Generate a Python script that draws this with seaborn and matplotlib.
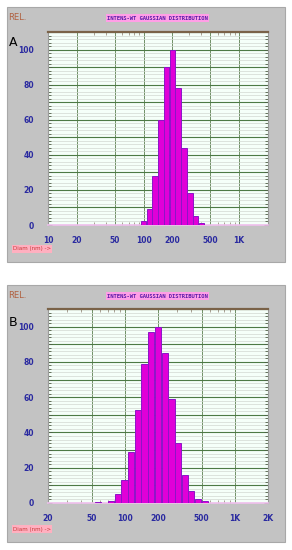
import matplotlib
matplotlib.use("Agg")
import matplotlib.pyplot as plt
import matplotlib.patches as mpatches
from matplotlib.ticker import FixedLocator, MultipleLocator, FuncFormatter, NullFormatter
import numpy as np
import pandas as pd
import seaborn as sns

# Data (diameter in nm, relative intensity)
diam_a = [100, 115, 132, 151, 174, 200, 230, 264, 304, 350, 402]
rel_a = [2, 9, 28, 60, 90, 100, 78, 44, 18, 5, 1]

diam_b = [57, 65, 75, 86, 99, 114, 131, 151, 174, 200, 230, 265, 304, 350, 402, 462, 532]
rel_b = [0.5, 0, 1, 5, 13, 29, 53, 79, 97, 100, 85, 59, 34, 16, 7, 2.5, 1]

ticks_a = [10, 20, 50, 100, 200, 500, 1000]
labels_a = ["10", "20", "50", "100", "200", "500", "1K"]
ticks_b = [20, 50, 100, 200, 500, 1000, 2000]
labels_b = ["20", "50", "100", "200", "500", "1K", "2K"]

title = "INTENS-WT GAUSSIAN DISTRIBUTION"

sns.set_style("white")

fig = plt.figure(figsize=(2.92, 5.5), dpi=100)
fig.patch.set_facecolor("white")


def panel(gray_box, ax_box, diam, rel, xlim, ticks, labels, letter, letter_y):
    # gray background of the instrument screen
    fig.patches.append(mpatches.Rectangle(gray_box[:2], gray_box[2], gray_box[3],
                                          transform=fig.transFigure, facecolor="#c3c3c3",
                                          edgecolor="#a8a8a8", lw=0.8, zorder=-5))
    ax = fig.add_axes(ax_box)
    ax.set_facecolor("#f5fff9")
    df = pd.DataFrame({"diam": diam, "rel": rel})
    sns.barplot(data=df, x="diam", y="rel", native_scale=True, log_scale=(True, False),
                width=1, color="#e000d8", saturation=1, edgecolor="#8c14c8",
                linewidth=0.7, ax=ax, zorder=3)
    ax.set_xlim(*xlim)
    ax.set_ylim(0, 110)

    # grid: dark lines every 10, light lines every 2
    ax.yaxis.set_major_locator(MultipleLocator(10))
    ax.yaxis.set_minor_locator(MultipleLocator(2))
    ax.yaxis.set_major_formatter(FuncFormatter(lambda v, p: f"{int(v)}" if v % 20 == 0 and v <= 100 else ""))
    ax.xaxis.set_major_locator(FixedLocator(ticks))
    ax.xaxis.set_major_formatter(FuncFormatter(lambda v, p: labels[ticks.index(v)] if v in ticks else ""))
    ax.xaxis.set_minor_formatter(NullFormatter())
    ax.grid(True, which="major", axis="y", color="#4d7a45", lw=0.8, zorder=1)
    ax.grid(True, which="minor", axis="y", color="#d2d8d2", lw=0.5, zorder=1)
    ax.grid(True, which="major", axis="x", color="#6f8f66", lw=0.7, zorder=1)
    ax.set_axisbelow(True)

    ax.tick_params(axis="y", which="both", direction="in", left=True, right=True,
                   colors="#4f5f45", length=2, width=0.6)
    ax.tick_params(axis="y", which="major", length=3, pad=10, labelcolor="#2a2aa0",
                   labelsize=5.5)
    ax.tick_params(axis="x", which="both", direction="in", top=True, bottom=True,
                   colors="#8a7a6a", length=2, width=0.5)
    ax.tick_params(axis="x", which="major", length=0, pad=8, labelcolor="#2a2aa0",
                   labelsize=5.5)
    for lab in ax.get_xticklabels() + ax.get_yticklabels():
        lab.set_fontweight("bold")

    ax.spines["top"].set_color("#7a6248")
    ax.spines["top"].set_linewidth(1.6)
    ax.spines["bottom"].set_color("#f0c0ee")
    ax.spines["bottom"].set_linewidth(1.2)
    ax.spines["left"].set_color("#9a9a9a")
    ax.spines["right"].set_color("#9a9a9a")
    ax.set_xlabel("")
    ax.set_ylabel("")

    # texts of the screen
    top = gray_box[1] + gray_box[3]
    fig.text(0.54, top - 11 / 550, title, ha="center", va="center", fontsize=4,
             family="DejaVu Sans Mono", fontweight="bold", color="#5a1aa8",
             bbox=dict(facecolor="#ff9ee6", edgecolor="none", pad=0.9))
    fig.text(0.028, top - 10 / 550, "REL.", ha="left", va="center", fontsize=6,
             color="#b06040")
    fig.text(0.03, letter_y, letter, ha="left", va="center", fontsize=9, color="black")
    fig.text(0.045, gray_box[1] + 13 / 550, "Diam (nm) ->", ha="left", va="center",
             fontsize=4, color="#c83838",
             bbox=dict(facecolor="#ffb0c0", edgecolor="none", pad=0.8))
    return ax


panel((7 / 292, 1 - 262 / 550, 278 / 292, 255 / 550),
      [48 / 292, 1 - 225 / 550, 220 / 292, 193 / 550],
      diam_a, rel_a, (10, 2000), ticks_a, labels_a, "A", 1 - 42 / 550)

panel((7 / 292, 1 - 542 / 550, 278 / 292, 257 / 550),
      [48 / 292, 1 - 503 / 550, 220 / 292, 194 / 550],
      diam_b, rel_b, (20, 2000), ticks_b, labels_b, "B", 1 - 322 / 550)

fig.savefig("out.png", dpi=100)
